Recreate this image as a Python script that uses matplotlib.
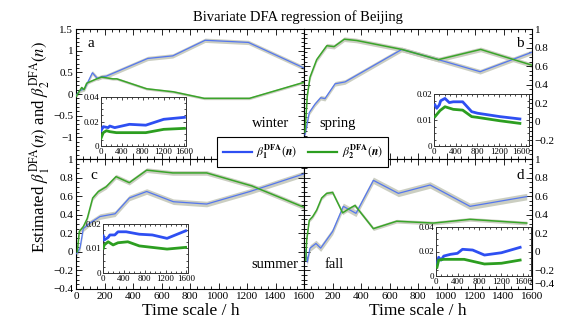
import numpy as np
import matplotlib
matplotlib.use("Agg")
import matplotlib.pyplot as plt
from matplotlib.ticker import FixedLocator, MultipleLocator, FuncFormatter
from matplotlib.lines import Line2D

plt.rcParams['font.family'] = ['Liberation Serif', 'DejaVu Serif']
plt.rcParams['mathtext.fontset'] = 'stix'
plt.rcParams['axes.linewidth'] = 0.8

# ---------------- data ----------------
seasons = ["winter", "spring", "summer", "fall"]
panel_letters = ["a", "b", "c", "d"]

a_x_blue = [0, 28, 60, 115, 150, 180, 211, 503, 679, 906, 1210, 1600]
a_blue = [-0.03, 0.08, 0.12, 0.49, 0.36, 0.40, 0.41, 0.82, 0.88, 1.24, 1.19, 0.60]
a_x_green = [0, 40, 56, 75, 145, 180, 258, 286, 496, 683, 899, 1217, 1600]
a_green = [-0.06, 0.15, 0.10, 0.25, 0.35, 0.39, 0.35, 0.35, 0.12, 0.05, -0.10, -0.10, 0.27]

b_x_blue = [7, 37, 77, 117, 147, 218, 288, 686, 943, 1236, 1600]
b_blue = [-0.14, 0.10, 0.19, 0.26, 0.25, 0.41, 0.43, 0.78, 0.67, 0.54, 0.75]
b_x_green = [7, 23, 42, 89, 160, 211, 283, 370, 686, 943, 1240, 1600]
b_green = [-0.11, 0.28, 0.48, 0.67, 0.82, 0.81, 0.89, 0.876, 0.78, 0.67, 0.78, 0.61]

c_x_blue = [5, 28, 51, 98, 168, 274, 374, 496, 683, 917, 1221, 1600]
c_blue = [-0.02, 0.04, 0.25, 0.31, 0.38, 0.41, 0.58, 0.65, 0.54, 0.515, 0.65, 0.84]
c_x_green = [9, 23, 51, 79, 117, 157, 211, 281, 374, 496, 679, 917, 1234, 1600]
c_green = [0.0, 0.22, 0.27, 0.36, 0.58, 0.65, 0.70, 0.81, 0.745, 0.88, 0.85, 0.85, 0.71, 0.48]

d_x_blue = [12, 23, 42, 84, 117, 201, 276, 365, 487, 662, 885, 1165, 1563]
d_blue = [0.02, -0.11, 0.04, 0.09, 0.04, 0.22, 0.49, 0.415, 0.77, 0.63, 0.72, 0.49, 0.595]
d_x_green = [12, 19, 37, 61, 89, 124, 159, 201, 271, 311, 358, 487, 650, 908, 1165, 1563]
d_green = [-0.09, 0.13, 0.34, 0.38, 0.45, 0.58, 0.63, 0.64, 0.42, 0.46, 0.50, 0.25, 0.33, 0.31, 0.35, 0.31]

# confidence band half-widths (blue, green) per panel
band_blue = [0.05, 0.025, 0.03, 0.035]
band_green = [0.03, 0.025, 0.025, 0.02]

# inset data (fluctuation functions)
ia_x_blue = [0, 43, 137, 169, 263, 545, 859, 1203, 1600]
ia_blue = [0.0125, 0.0158, 0.015, 0.0163, 0.015, 0.0177, 0.017, 0.0218, 0.0234]
ia_x_green = [0, 43, 106, 169, 294, 859, 1203, 1600]
ia_green = [0.0063, 0.0109, 0.0125, 0.0117, 0.0109, 0.0109, 0.0136, 0.0144]

ib_x_blue = [18, 50, 98, 123, 202, 282, 355, 528, 694, 804, 1214, 1582]
ib_blue = [0.0158, 0.0145, 0.0158, 0.0174, 0.0183, 0.0167, 0.017, 0.017, 0.0132, 0.0126, 0.0113, 0.0104]
ib_x_green = [18, 110, 202, 355, 528, 694, 804, 1214, 1582]
ib_green = [0.0113, 0.0136, 0.0151, 0.0141, 0.0138, 0.0113, 0.011, 0.0097, 0.0087]

ic_x_blue = [5, 23, 99, 132, 226, 288, 444, 696, 946, 1228, 1585]
ic_blue = [0.0151, 0.0134, 0.0145, 0.0155, 0.0155, 0.0168, 0.0168, 0.0158, 0.0155, 0.0141, 0.0172]
ic_x_green = [5, 23, 99, 194, 288, 476, 696, 1228, 1585]
ic_green = [0.010, 0.0114, 0.0127, 0.0114, 0.0123, 0.0127, 0.011, 0.0097, 0.0104]

id_x_blue = [18, 49, 94, 143, 268, 394, 488, 675, 893, 1206, 1550]
id_blue = [0.009, 0.0153, 0.013, 0.0163, 0.0177, 0.0185, 0.0218, 0.0212, 0.0171, 0.019, 0.0234]
id_x_green = [18, 49, 143, 518, 893, 1206, 1550]
id_green = [0.0071, 0.013, 0.0136, 0.0136, 0.0098, 0.0104, 0.013]

main_xticks = [0, 200, 400, 600, 800, 1000, 1200, 1400, 1600]
inset_xticks = [0, 400, 800, 1200, 1600]

# ---------------- style ----------------
BLUE_MAIN = '#5577ee'
GREEN_MAIN = '#3aa52a'
BLUE_IN = '#2e4ff2'
GREEN_IN = '#2c9e20'
BAND = '#c6c9bb'

def fmt(v, pos=None):
    s = '%g' % v
    return s.replace('-', '\u2212')

fig = plt.figure(figsize=(5.72, 3.26), dpi=100)

W = 228 / 572
H = 130 / 326
xl = 76 / 572
xr = 304 / 572
yt = 1 - 159 / 326
yb = 1 - 289 / 326

positions = [[xl, yt, W, H], [xr, yt, W, H], [xl, yb, W, H], [xr, yb, W, H]]
ylims = [(-1.5, 1.5), (-0.4, 1.0), (-0.4, 1.0), (-0.4, 1.0)]

main_data = [
    (a_x_blue, a_blue, a_x_green, a_green),
    (b_x_blue, b_blue, b_x_green, b_green),
    (c_x_blue, c_blue, c_x_green, c_green),
    (d_x_blue, d_blue, d_x_green, d_green),
]

axes = []
for i, pos in enumerate(positions):
    ax = fig.add_axes(pos)
    axes.append(ax)
    xb, yb_, xg, yg = main_data[i]
    xb = np.array(xb, float); yb_ = np.array(yb_, float)
    xg = np.array(xg, float); yg = np.array(yg, float)
    ax.fill_between(xb, yb_ - band_blue[i], yb_ + band_blue[i], color=BAND, lw=0, alpha=0.9, zorder=1)
    ax.fill_between(xg, yg - band_green[i], yg + band_green[i], color=BAND, lw=0, alpha=0.9, zorder=1)
    ax.plot(xb, yb_, color=BLUE_MAIN, lw=0.9, zorder=3)
    ax.plot(xg, yg, color=GREEN_MAIN, lw=1.1, zorder=3)
    ax.set_xlim(0, 1600)
    ax.set_ylim(*ylims[i])
    ax.xaxis.set_major_locator(FixedLocator(main_xticks))
    ax.xaxis.set_minor_locator(MultipleLocator(50))
    ax.tick_params(which='both', direction='in', top=True, bottom=True, left=True, right=True,
                   labelsize=8, pad=2, width=0.6)
    ax.tick_params(which='major', length=4)
    ax.tick_params(which='minor', length=2)
    ax.yaxis.set_major_formatter(FuncFormatter(fmt))
    ax.xaxis.set_major_formatter(FuncFormatter(fmt))

# panel a
axes[0].set_yticks([-1, -0.5, 0, 0.5, 1, 1.5])
axes[0].yaxis.set_minor_locator(MultipleLocator(0.1))
axes[0].tick_params(labelbottom=False)
# panel b
axes[1].set_yticks([-0.2, 0, 0.2, 0.4, 0.6, 0.8, 1.0])
axes[1].yaxis.set_minor_locator(MultipleLocator(0.05))
axes[1].tick_params(labelbottom=False, labelleft=False, labelright=True)
# panel c
axes[2].set_yticks([-0.4, -0.2, 0, 0.2, 0.4, 0.6, 0.8, 1.0])
axes[2].yaxis.set_minor_locator(MultipleLocator(0.05))
# panel d
axes[3].set_yticks([-0.4, -0.2, 0, 0.2, 0.4, 0.6, 0.8, 1.0])
axes[3].yaxis.set_minor_locator(MultipleLocator(0.05))
axes[3].tick_params(labelleft=False, labelright=True)
axes[3].xaxis.set_major_locator(FixedLocator(main_xticks[1:]))
for lab in axes[3].get_yticklabels():
    if lab.get_text().startswith('\u22120.4'):
        lab.set_verticalalignment('bottom')

# panel letters and seasons
letter_pos = [(0.1585, 0.867), (0.908, 0.867), (0.164, 0.463), (0.909, 0.463)]
season_pos = [(0.473, 0.622), (0.590, 0.620), (0.481, 0.190), (0.584, 0.190)]
for i in range(4):
    fig.text(*letter_pos[i], panel_letters[i], fontsize=11, ha='center', va='center')
    fig.text(*season_pos[i], seasons[i], fontsize=10.5, ha='center', va='center')

# insets
inset_pos = [
    [101 / 572, 1 - 146 / 326, 85 / 572, 49 / 326],
    [434 / 572, 1 - 146 / 326, 95 / 572, 52 / 326],
    [103 / 572, 1 - 272.7 / 326, 85 / 572, 48.7 / 326],
    [436 / 572, 1 - 276 / 326, 95 / 572, 49 / 326],
]
inset_data = [
    (ia_x_blue, ia_blue, ia_x_green, ia_green),
    (ib_x_blue, ib_blue, ib_x_green, ib_green),
    (ic_x_blue, ic_blue, ic_x_green, ic_green),
    (id_x_blue, id_blue, id_x_green, id_green),
]
inset_ylim = [0.04, 0.02, 0.02, 0.04]
inset_xmax = [1630, 1750, 1630, 1750]
for i in range(4):
    ia = fig.add_axes(inset_pos[i])
    xb, yb2, xg, yg = inset_data[i]
    ia.plot(xb, yb2, color=BLUE_IN, lw=2.0, zorder=3)
    ia.plot(xg, yg, color=GREEN_IN, lw=2.0, zorder=3)
    ia.set_xlim(0, inset_xmax[i])
    ia.set_ylim(0, inset_ylim[i])
    ia.set_yticks([0, inset_ylim[i] / 2, inset_ylim[i]])
    ia.set_xticks(inset_xticks)
    ia.xaxis.set_minor_locator(MultipleLocator(100))
    ia.yaxis.set_minor_locator(MultipleLocator(inset_ylim[i] / 8))
    ia.yaxis.set_major_formatter(FuncFormatter(fmt))
    ia.xaxis.set_major_formatter(FuncFormatter(fmt))
    ia.tick_params(which='both', direction='in', top=True, right=True, labelsize=6.5, pad=1.5, width=0.5)
    ia.tick_params(which='major', length=2.5)
    ia.tick_params(which='minor', length=1.2)
    for sp in ia.spines.values():
        sp.set_linewidth(0.7)
        sp.set_color('#333333')

# legend
handles = [Line2D([], [], color=BLUE_IN, lw=1.6), Line2D([], [], color=GREEN_IN, lw=1.6)]
labels = [r'$\beta_{\mathbf{1}}^{\mathbf{DFA}}(\mathbfit{n})$', r'$\beta_{\mathbf{2}}^{\mathbf{DFA}}(\mathbfit{n})$']
leg = fig.legend(handles, labels, loc='center', bbox_to_anchor=(0.529, 0.534), ncol=2,
                 fontsize=8.5, frameon=True, fancybox=False, edgecolor='black', framealpha=1,
                 handlelength=2.5, columnspacing=0.9, borderpad=0.5, handletextpad=0.35)
leg.get_frame().set_linewidth(0.8)
leg.set_zorder(10)

# titles and labels
fig.text(0.52, 0.946, 'Bivariate DFA regression of Beijing', fontsize=10.5, ha='center', va='center')
fig.text(0.334, 0.046, 'Time scale / h', fontsize=12.5, ha='center', va='center')
fig.text(0.731, 0.046, 'Time scale / h', fontsize=12.5, ha='center', va='center')
fig.text(0.07, 0.548, r'Estimated $\beta_1^{\mathrm{DFA}}(n)$ and $\beta_2^{\mathrm{DFA}}(n)$',
         fontsize=12, rotation=90, ha='center', va='center')

fig.savefig('out.png', dpi=100)
